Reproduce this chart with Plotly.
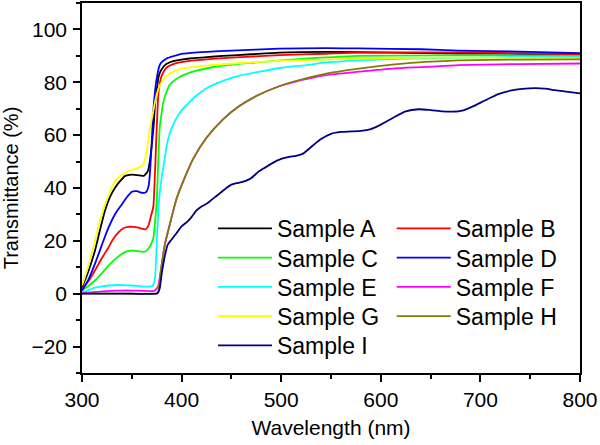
import plotly.graph_objects as go

names = ["Sample A", "Sample B", "Sample C", "Sample D", "Sample E",
         "Sample F", "Sample G", "Sample H", "Sample I"]
colors = ["#000000", "#FF0000", "#00FF00", "#0000FF", "#00FFFF",
          "#FF00FF", "#FFFF00", "#808000", "#000080"]

wl_a = [300, 305, 313, 318, 323, 328, 333, 338, 343, 348, 353, 358, 362, 366, 368, 370, 372, 373.3, 375, 376.6, 378, 381.6, 385, 391.6, 398, 408, 425, 441.6, 470, 498, 545, 611, 678, 740, 800]
t_a = [2.5, 7, 16.3, 24, 31.3, 36.5, 40, 42.5, 44.5, 45, 45, 44.8, 44.6, 46.3, 50, 56, 64, 71.4, 77, 81.5, 83.5, 85.8, 87, 88, 88.5, 89, 89.5, 90, 90.6, 91.2, 91.5, 91.2, 90.9, 90.8, 90.7]

wl_b = [300, 306, 313, 320, 326.6, 331, 336.6, 341, 346.6, 351, 356.6, 361.6, 364, 366.6, 369, 371.6, 373.3, 375, 376.6, 378, 380, 385, 391, 398, 410, 425, 450, 498, 545, 578, 678, 740, 800]
t_b = [1.9, 4.5, 8.8, 13.5, 17.5, 20.5, 23.2, 24.7, 25.3, 25.3, 25, 24.4, 24.4, 25.7, 29, 33, 46, 62.5, 75, 79.5, 82.5, 85.6, 86.8, 87.5, 88.2, 88.7, 89.3, 90.3, 90.8, 91.2, 91.3, 91, 90.5]

wl_c = [300, 306, 313, 320, 326.6, 333, 340, 345, 350, 355, 360, 363.3, 366.6, 369, 371.6, 373.3, 375, 376.6, 378, 380, 381.6, 385, 388, 393, 398, 405, 415, 428, 441.6, 458, 475, 500, 540, 578, 678, 740, 800]
t_c = [1.2, 2.8, 5, 7.8, 10.6, 13, 15, 16, 16.3, 16.2, 15.9, 15.9, 17, 18.5, 21, 27, 35, 50, 62.5, 68.5, 72.5, 76.5, 79, 80.8, 82, 83.2, 84.4, 85.5, 86.3, 87, 87.5, 88.3, 89.3, 90, 90.2, 90.1, 90]

wl_d = [300, 306, 313, 320, 326.6, 333, 340, 345, 350, 355, 360, 363, 365, 367, 368.3, 370, 371.6, 373.3, 375, 378, 380, 385, 391, 398, 410, 425, 450, 498, 545, 578, 640, 678, 740, 800]
t_d = [1.2, 5, 11.3, 18.5, 25, 30, 33.8, 36.5, 38.6, 38.8, 38.2, 38.2, 38.8, 41, 46.3, 57, 69, 76.5, 81.5, 86.5, 87.6, 89, 89.8, 90.6, 91.1, 91.5, 92, 92.7, 92.9, 92.8, 92.5, 92, 91.6, 91]

wl_e = [300, 306, 313, 320, 327, 335, 343, 350, 360, 366, 370, 371.6, 373.3, 375, 376.6, 378, 380, 383, 385, 388, 391.6, 396, 401.6, 408, 415, 423, 431.6, 445, 458, 478, 500, 525, 545, 578, 628, 678, 740, 800]
t_e = [0.6, 1.2, 2.3, 2.8, 3.1, 3.3, 3.2, 3.1, 2.8, 2.7, 2.8, 3.5, 6, 18.8, 31, 38, 44, 51, 56, 60.5, 64, 67.2, 70, 72.5, 75, 77.3, 79, 81, 82.5, 84, 85.5, 86.5, 87.5, 88.3, 89, 89.3, 89.5, 89.5]

wl_f = [300, 310, 320, 330, 340, 350, 360, 368, 372, 374, 376.6, 378, 380, 383.3, 388, 395, 401.6, 411.6, 425, 441.6, 458, 475, 498, 511.6, 545, 578, 611.6, 645, 678, 740, 800]
t_f = [0.2, 0.5, 0.9, 1.1, 1.2, 1.2, 1.1, 1.0, 1.0, 1.5, 3, 6, 11, 18.8, 26, 36, 42.5, 51, 59, 66, 71, 74.8, 78.5, 80, 82.7, 84, 85.2, 85.8, 86.5, 86.9, 87.1]

wl_g = [300, 306, 313, 318, 323, 328, 333, 340, 346.6, 351, 356.6, 361.6, 363.3, 365, 368.3, 371, 373.3, 375.5, 378.3, 385, 398, 425, 460, 498, 545, 578, 678, 740, 800]
t_g = [3.1, 10, 20, 27.5, 33.8, 38.5, 42.6, 45, 46.4, 47, 47.6, 48.9, 51, 54, 62.5, 68, 72.5, 76, 79, 82.5, 85, 86.3, 87.3, 88.1, 88.6, 89, 89.4, 89.2, 89]

wl_h = [300, 340, 370, 375, 376.6, 378, 380, 383.3, 388, 395, 401.6, 411.6, 425, 441.6, 458, 475, 498, 511.6, 545, 578, 611.6, 645, 678, 740, 800]
t_h = [0, 0, 0, 0.2, 1, 5, 11, 18.8, 26, 36, 42.5, 51, 59, 66, 71, 74.8, 78.5, 80.2, 83.3, 85.2, 86.7, 87.7, 88.3, 88.6, 88.7]

wl_i = [300, 350, 376, 378, 380, 383, 386, 390, 395, 400, 405, 410, 415, 420, 425, 430, 435, 440, 445, 450, 455, 460, 465, 470, 478, 485, 492, 500, 508, 515, 522, 530, 540, 550, 560, 570, 580, 590, 600, 612, 625, 638, 650, 662, 672, 682, 692, 705, 718, 730, 742, 755, 765, 775, 790, 800]
t_i = [0, 0, 0.2, 2, 7.5, 14, 18.5, 20.5, 23, 25.5, 27, 29, 31.5, 33, 34, 35.5, 37, 38.5, 40, 41.3, 41.8, 42.2, 42.8, 43.8, 46.4, 48, 49.6, 51, 51.8, 52.2, 53, 55.5, 58.5, 60.5, 61.2, 61.4, 61.6, 62.3, 64, 66.5, 69, 69.8, 69.5, 69, 68.9, 69.3, 70.8, 73.2, 75.5, 76.8, 77.5, 77.8, 77.6, 77, 76.3, 75.8]

x_ticks = [300, 400, 500, 600, 700, 800]
y_ticks = [-20, 0, 20, 40, 60, 80, 100]

series = [(wl_a, t_a), (wl_b, t_b), (wl_c, t_c), (wl_d, t_d), (wl_e, t_e),
          (wl_f, t_f), (wl_g, t_g), (wl_h, t_h), (wl_i, t_i)]

FONT = "Arial, Liberation Sans, sans-serif"

# one legend box per entry: two columns, five rows
col_x = [0.263, 0.622]
row_y = [0.449, 0.370, 0.291, 0.2115, 0.1325]

fig = go.Figure()
legend_layouts = {}
for i, (name, col, (xs, ys)) in enumerate(zip(names, colors, series)):
    lid = "legend" if i == 0 else f"legend{i + 1}"
    fig.add_trace(go.Scatter(
        x=xs, y=ys, mode="lines", name=name,
        line=dict(color=col, width=1.8, shape="spline", smoothing=0.6),
        legend=lid,
    ))
    legend_layouts[lid] = dict(
        x=col_x[i % 2], y=row_y[i // 2], xanchor="left", yanchor="top",
        bgcolor="rgba(255,255,255,0)", borderwidth=0,
        font=dict(family=FONT, size=23, color="black"),
        itemwidth=54,
    )

fig.update_layout(
    width=600, height=445,
    margin=dict(l=82, r=20, t=1, b=72),
    plot_bgcolor="white", paper_bgcolor="white",
    font=dict(family=FONT, size=21, color="black"),
    showlegend=True,
    **legend_layouts,
)
axis_common = dict(showline=True, linecolor="black", linewidth=1.5, mirror=True,
                   ticks="outside", ticklen=7, tickwidth=1.5, tickcolor="black",
                   showgrid=False, zeroline=False,
                   tickfont=dict(family=FONT, size=21, color="black"))
fig.update_xaxes(range=[300, 800], tickvals=x_ticks,
                 minor=dict(ticks="outside", ticklen=4, tickwidth=1.5, tickcolor="black", dtick=50),
                 title=dict(text="Wavelength (nm)", font=dict(family=FONT, size=21), standoff=10),
                 **axis_common)
fig.update_yaxes(range=[-30, 110], tickvals=y_ticks,
                 minor=dict(ticks="outside", ticklen=4, tickwidth=1.5, tickcolor="black", dtick=10),
                 title=dict(text="Transmittance (%)", font=dict(family=FONT, size=20), standoff=8),
                 ticklabelstandoff=2,
                 **axis_common)

fig.write_html("out.html", config={"displayModeBar": False},
               post_script="document.body.style.margin='0px';")
